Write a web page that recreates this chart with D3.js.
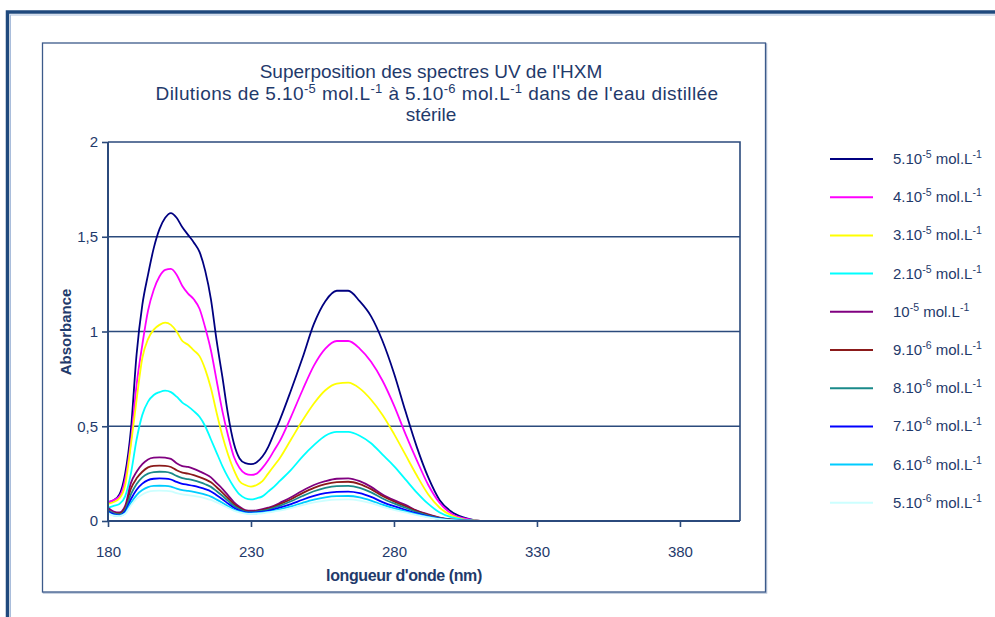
<!DOCTYPE html>
<html><head><meta charset="utf-8">
<script src="https://cdn.jsdelivr.net/npm/d3@7/dist/d3.min.js"></script>
<style>html,body{margin:0;padding:0;background:#fff;}svg{display:block;font-family:"Liberation Sans",Arial,sans-serif;}</style>
</head><body>
<svg id="c" width="995" height="617"></svg>
<script>
const wavelengths = [180,182,184,186,188,190,192,194,196,198,200,202,204,206,208,210,212,214,216,218,220,222,224,226,228,230,232,234,236,238,240,244,248,252,256,260,264,268,272,276,280,284,288,292,296,300,304,308,312,401];

const s5e5 = [0.10,0.11,0.14,0.25,0.48,0.88,1.14,1.30,1.44,1.54,1.60,1.625,1.60,1.55,1.51,1.47,1.42,1.32,1.17,0.95,0.76,0.56,0.41,0.33,0.305,0.30,0.31,0.34,0.39,0.46,0.53,0.69,0.86,1.04,1.16,1.215,1.215,1.16,1.08,0.95,0.78,0.58,0.39,0.23,0.11,0.05,0.02,0.005,0,0];
const s4e5 = [0.10,0.11,0.13,0.22,0.42,0.72,0.93,1.11,1.22,1.29,1.325,1.33,1.30,1.24,1.20,1.17,1.12,1.02,0.90,0.74,0.58,0.45,0.34,0.28,0.25,0.243,0.25,0.28,0.32,0.37,0.42,0.55,0.69,0.82,0.91,0.95,0.95,0.91,0.84,0.74,0.61,0.46,0.32,0.19,0.095,0.04,0.015,0.005,0,0];
const s3e5 = [0.09,0.10,0.12,0.19,0.40,0.64,0.86,0.96,1.01,1.035,1.047,1.035,1.00,0.95,0.93,0.90,0.87,0.80,0.70,0.57,0.45,0.35,0.27,0.21,0.19,0.181,0.19,0.21,0.25,0.29,0.33,0.43,0.53,0.62,0.69,0.725,0.73,0.70,0.64,0.56,0.46,0.35,0.24,0.14,0.07,0.03,0.01,0.003,0,0];
const s2e5 = [0.07,0.08,0.09,0.13,0.25,0.43,0.56,0.63,0.665,0.68,0.688,0.68,0.656,0.625,0.605,0.58,0.55,0.50,0.43,0.36,0.29,0.23,0.18,0.14,0.12,0.114,0.12,0.13,0.155,0.18,0.21,0.27,0.34,0.40,0.45,0.47,0.47,0.45,0.41,0.35,0.29,0.22,0.15,0.09,0.045,0.02,0.007,0.002,0,0];
const s1e5 = [0.07,0.05,0.045,0.08,0.20,0.26,0.30,0.325,0.334,0.336,0.334,0.328,0.305,0.29,0.285,0.275,0.262,0.248,0.23,0.20,0.17,0.135,0.10,0.075,0.058,0.054,0.056,0.062,0.07,0.08,0.095,0.125,0.16,0.19,0.21,0.223,0.225,0.21,0.18,0.14,0.11,0.085,0.055,0.035,0.018,0.008,0.003,0.001,0,0];
const s9e6 = [0.06,0.04,0.04,0.07,0.17,0.225,0.26,0.283,0.291,0.292,0.291,0.285,0.268,0.255,0.25,0.242,0.232,0.22,0.204,0.178,0.15,0.12,0.09,0.068,0.054,0.05,0.052,0.058,0.065,0.075,0.088,0.115,0.147,0.175,0.195,0.205,0.207,0.195,0.168,0.132,0.103,0.078,0.052,0.032,0.016,0.007,0.003,0.001,0,0];
const s8e6 = [0.055,0.04,0.035,0.06,0.14,0.195,0.23,0.25,0.258,0.26,0.259,0.253,0.238,0.226,0.221,0.214,0.205,0.194,0.18,0.157,0.133,0.106,0.08,0.062,0.05,0.047,0.049,0.054,0.06,0.069,0.08,0.104,0.132,0.157,0.175,0.184,0.185,0.175,0.151,0.119,0.093,0.07,0.047,0.029,0.015,0.006,0.002,0.001,0,0];
const s7e6 = [0.05,0.035,0.03,0.05,0.115,0.165,0.197,0.216,0.223,0.225,0.224,0.219,0.206,0.196,0.191,0.185,0.177,0.168,0.156,0.136,0.115,0.092,0.07,0.055,0.046,0.044,0.045,0.049,0.054,0.061,0.07,0.089,0.112,0.132,0.147,0.154,0.155,0.147,0.127,0.10,0.078,0.059,0.04,0.025,0.013,0.005,0.002,0.001,0,0];
const s6e6 = [0.045,0.03,0.028,0.042,0.095,0.137,0.163,0.179,0.185,0.186,0.185,0.181,0.171,0.163,0.159,0.154,0.147,0.139,0.129,0.113,0.096,0.078,0.061,0.049,0.042,0.04,0.041,0.044,0.048,0.054,0.061,0.077,0.096,0.113,0.125,0.131,0.132,0.125,0.108,0.086,0.067,0.051,0.035,0.022,0.011,0.005,0.002,0.001,0,0];
const s5e6 = [0.04,0.028,0.026,0.038,0.082,0.118,0.14,0.154,0.159,0.16,0.159,0.156,0.147,0.14,0.137,0.133,0.127,0.12,0.111,0.098,0.084,0.069,0.055,0.045,0.039,0.038,0.039,0.041,0.045,0.05,0.055,0.068,0.084,0.098,0.108,0.113,0.114,0.108,0.094,0.075,0.059,0.045,0.031,0.019,0.01,0.004,0.002,0.001,0,0];

const seriesValues = [s5e5,s4e5,s3e5,s2e5,s1e5,s9e6,s8e6,s7e6,s6e6,s5e6];
const legendBase = ["5.10","4.10","3.10","2.10","10","9.10","8.10","7.10","6.10","5.10"];
const legendExp = ["-5","-5","-5","-5","-5","-6","-6","-6","-6","-6"];
const seriesColors = ["#000080","#ff00ff","#ffff00","#00ffff","#800080","#8b1a1a","#1a8a8a","#0000ff","#00ccff","#ccffff"];
const xTicks = [180,230,280,330,380];
const yTicks = [0,0.5,1,1.5,2];
const yTickLabels = ["0","0,5","1","1,5","2"];

const svg = d3.select("#c");
const dark = "#1f3a6b";
const axisCol = "#2b4a7c";

// outer frame
svg.append("rect").attr("x",7.5).attr("y",12).attr("width",1100).attr("height",700)
  .attr("fill","none").attr("stroke","#1f497d").attr("stroke-width",3.5);
svg.append("rect").attr("x",10.5).attr("y",15).attr("width",1100).attr("height",700)
  .attr("fill","none").attr("stroke","#a9bddb").attr("stroke-width",1);

// chart box
svg.append("rect").attr("x",43.5).attr("y",44).attr("width",723).attr("height",549)
  .attr("fill","none").attr("stroke","#b7c4d8").attr("stroke-width",1.5);
svg.append("rect").attr("x",42.5).attr("y",43).attr("width",723).attr("height",549)
  .attr("fill","#fff").attr("stroke","#3c5a8a").attr("stroke-width",1.3);

const x = d3.scaleLinear().domain([180,401]).range([108,740]);
const y = d3.scaleLinear().domain([0,2]).range([521,142]);

// plot border top and right
svg.append("path").attr("d",`M${x(180)},${y(2)}H${x(401)}V${y(0)}`)
  .attr("fill","none").attr("stroke",axisCol).attr("stroke-width",1.6);

// gridlines
svg.append("g").selectAll("line").data(yTicks.filter(v=>v>0&&v<2)).join("line")
  .attr("x1",x(180)).attr("x2",x(401)).attr("y1",d=>y(d)).attr("y2",d=>y(d))
  .attr("stroke",axisCol).attr("stroke-width",1.6);

// series
const line = d3.line().x((d,i)=>x(wavelengths[i])).y(d=>y(d)).curve(d3.curveMonotoneX);
svg.append("g").selectAll("path").data(seriesValues).join("path")
  .attr("d",d=>line(d)).attr("fill","none")
  .attr("stroke",(d,i)=>seriesColors[i]).attr("stroke-width",1.8).attr("stroke-linejoin","round");

// axes
const yAxis = d3.axisLeft(y).tickValues(yTicks).tickSize(6).tickFormat((d,i)=>yTickLabels[i]);
const gy = svg.append("g").attr("transform",`translate(${x(180)},0)`).call(yAxis);
const xAxis = d3.axisBottom(x).tickValues(xTicks).tickSize(6).tickFormat(d3.format("d"));
const gx = svg.append("g").attr("transform",`translate(0,${y(0)})`).call(xAxis);
[gx,gy].forEach(g=>{
  g.select(".domain").attr("stroke",axisCol).attr("stroke-width",2);
  g.selectAll(".tick line").attr("stroke",axisCol).attr("stroke-width",1.6);
  g.selectAll("text").attr("fill",dark).style("font-family","'Liberation Sans',Arial,sans-serif").style("font-size","15px");
});
gx.select(".domain").attr("d",`M${x(180)},0H${x(401)}`);
gx.selectAll(".tick text").attr("dy","1.8em");
gy.selectAll(".tick text").attr("x",-10);
gy.select(".domain").attr("d",`M0,${y(2)}V${y(0)}`);

// axis titles
svg.append("text").attr("x",404).attr("y",581).attr("text-anchor","middle")
  .attr("fill",dark).attr("font-size","16px").attr("font-weight","bold").attr("letter-spacing","-0.4")
  .text("longueur d'onde (nm)");
svg.append("text").attr("transform","translate(71,332) rotate(-90)").attr("text-anchor","middle")
  .attr("fill",dark).attr("font-size","15px").attr("font-weight","bold")
  .text("Absorbance");

// title
const title = svg.append("text").attr("text-anchor","middle").attr("fill",dark).attr("font-size","19px");
title.append("tspan").attr("x",431).attr("y",78).text("Superposition des spectres UV de l'HXM");
const t2 = svg.append("text").attr("text-anchor","middle").attr("fill",dark).attr("font-size","19px").attr("letter-spacing","0.4").attr("x",437).attr("y",100);
[["Dilutions de 5.10",0],["-5",1],[" mol.L",0],["-1",1],[" à 5.10",0],["-6",1],[" mol.L",0],["-1",1],[" dans de l'eau distillée",0]].forEach(([t,s],i,a)=>{
  const ts = t2.append("tspan").text(t);
  if(s){ts.attr("font-size","13px").attr("dy",-7);} else if(i>0 && a[i-1][1]){ts.attr("dy",7);}
});
title.append("tspan").attr("x",431).attr("y",121).text("stérile");

// legend
const lg = svg.append("g");
legendBase.forEach((b,i)=>{
  const yy = 159 + i*38.2;
  lg.append("line").attr("x1",830).attr("x2",873).attr("y1",yy).attr("y2",yy)
    .attr("stroke",seriesColors[i]).attr("stroke-width",2);
  const t = lg.append("text").attr("x",893).attr("y",yy+5).attr("fill",dark).attr("font-size","15px");
  t.append("tspan").text(b);
  t.append("tspan").text(legendExp[i]).attr("font-size","10.5px").attr("dy",-6);
  t.append("tspan").text(" mol.L").attr("dy",6);
  t.append("tspan").text("-1").attr("font-size","10.5px").attr("dy",-6);
});
</script>
</body></html>
